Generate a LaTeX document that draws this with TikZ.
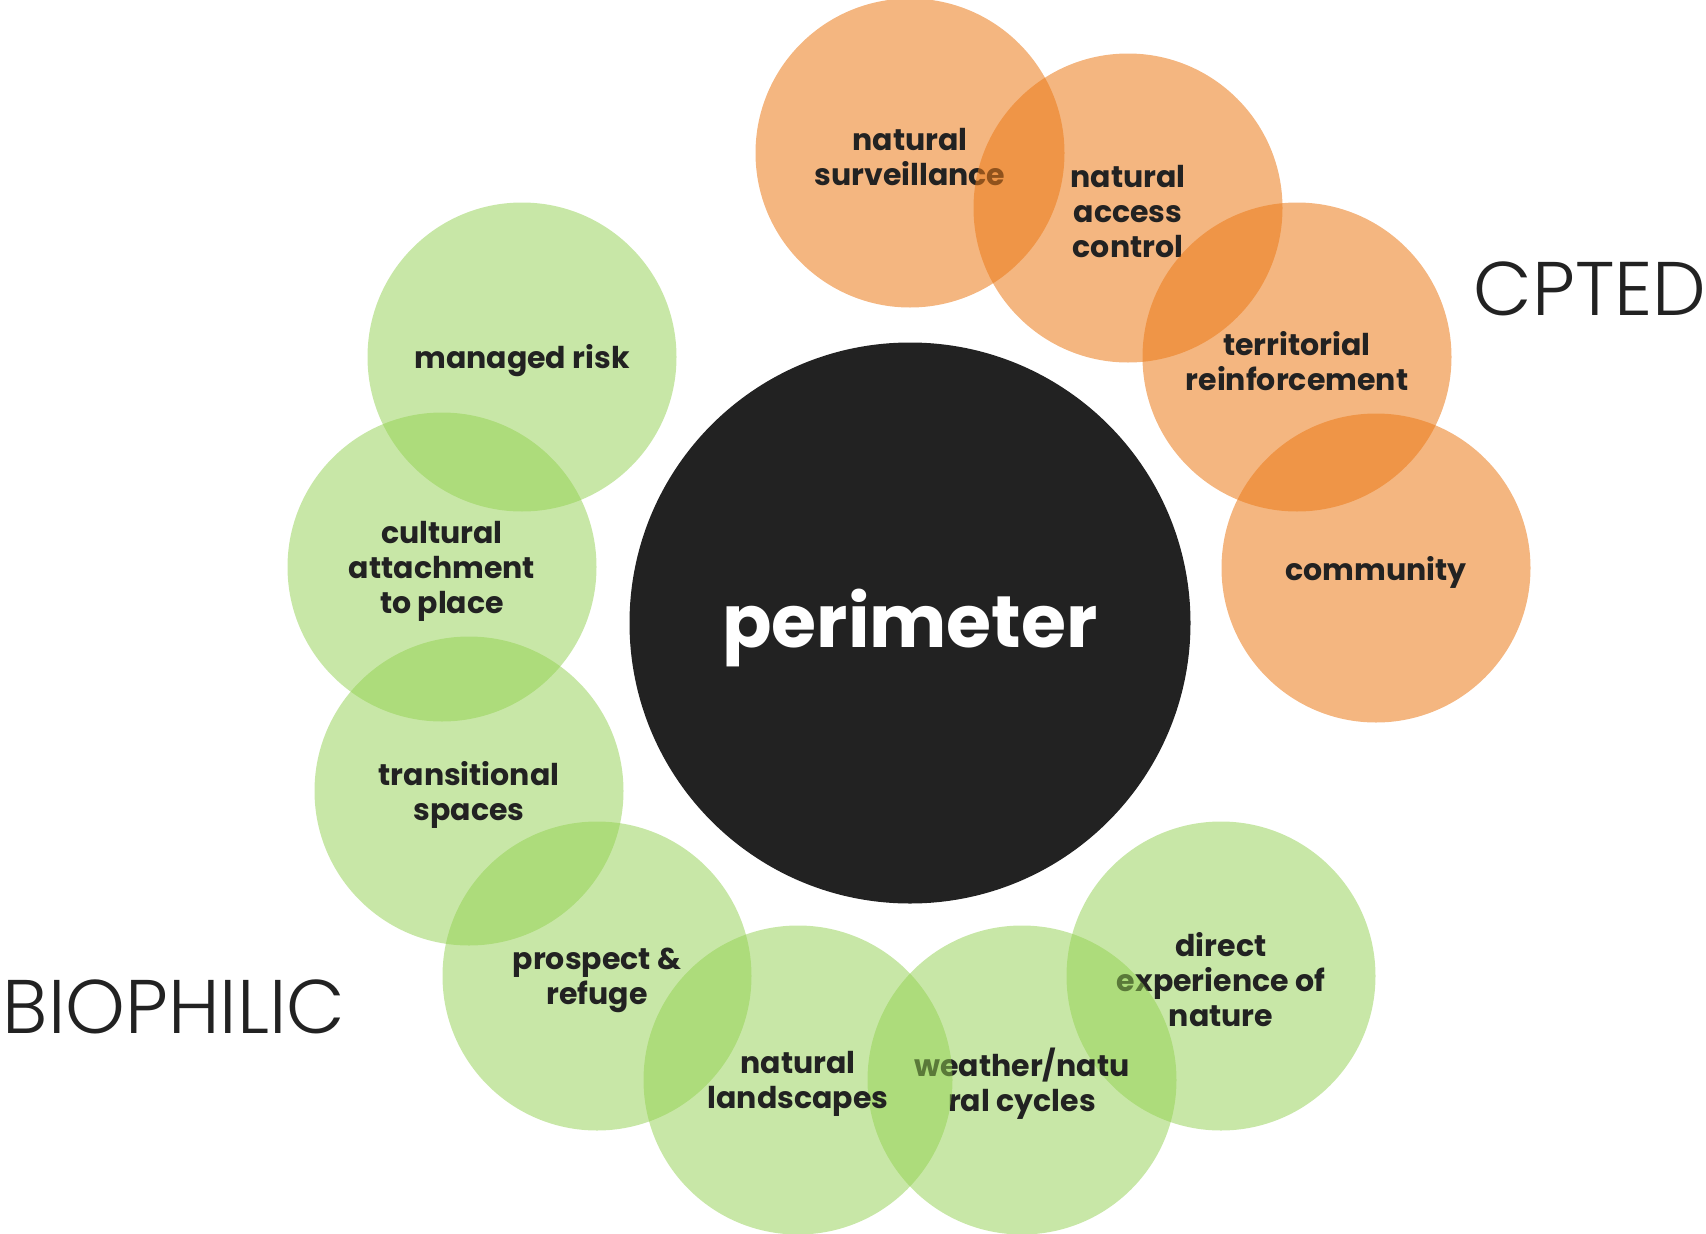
\documentclass[tikz,border=0pt]{standalone}
\usepackage{fontspec}
\setmainfont{Poppins}
\newfontfamily\thinfont{Poppins Light}
\usetikzlibrary{positioning}
\definecolor{cptedorange}{HTML}{EB7A18}
\definecolor{biogreen}{HTML}{92D050}
\definecolor{inkgrey}{HTML}{222222}
\tikzset{
cpted/.style={circle,minimum size=309pt,inner sep=0pt,
fill=cptedorange,fill opacity=0.55},
bio/.style={circle,minimum size=309pt,inner sep=0pt,
fill=biogreen,fill opacity=0.5},
ctext/.style={inner sep=0pt,text=inkgrey,align=center,
font=\fontsize{30}{35}\selectfont\bfseries},
core/.style={circle,minimum size=561pt,inner sep=0pt,fill=inkgrey},
coretext/.style={inner sep=0pt,text=white,font=\fontsize{73}{80}\selectfont\bfseries},
group/.style={inner sep=0pt,text=inkgrey,font=\fontsize{76}{80}\selectfont\thinfont}
}
\begin{document}
\begin{tikzpicture}[x=1pt,y=-1pt]
\useasboundingbox (0,0) rectangle (1706,1234);

\node[core] (perim) at (910,623) {};
\node[coretext] (perimt) at ([yshift=-5pt]perim.center) {perimeter};

\node[cpted] (surv) at (910,153) {};
\node[ctext] (survt) at ([yshift=-4pt]surv.center) {natural\\surveillance};
\node[cpted] (access) at (1128,208) {};
\node[ctext] (accesst) at ([yshift=-4pt]access.center) {natural\\access\\control};
\node[cpted] (terr) at (1297,357) {};
\node[ctext] (terrt) at ([yshift=-4pt]terr.center) {territorial\\reinforcement};
\node[cpted] (comm) at (1376,568) {};
\node[ctext] (commt) at ([yshift=-4pt]comm.center) {community};

\node[bio] (direct) at (1221,976) {};
\node[ctext] (directt) at ([yshift=-4pt]direct.center) {direct\\experience of\\nature};
\node[bio] (weather) at (1022,1080) {};
\node[ctext] (weathert) at ([yshift=-4pt]weather.center) {weather/natu\\ral cycles};
\node[bio] (landsc) at (798,1080) {};
\node[ctext] (landsct) at ([yshift=-4pt]landsc.center) {natural\\landscapes};
\node[bio] (prosp) at (597,976) {};
\node[ctext] (prospt) at ([yshift=-4pt]prosp.center) {prospect \&\\refuge};
\node[bio] (trans) at (469,791) {};
\node[ctext] (transt) at ([yshift=-4pt]trans.center) {transitional\\spaces};
\node[bio] (cult) at (442,567) {};
\node[ctext] (cultt) at ([yshift=-4pt]cult.center) {cultural\\attachment\\to place};
\node[bio] (risk) at (522,357) {};
\node[ctext] (riskt) at ([yshift=-4pt]risk.center) {managed risk};

\node[group] (cptedlbl) at (1590,289) {CPTED};
\node[group] (biolbl) at (174,1007) {BIOPHILIC};
\end{tikzpicture}
\end{document}
